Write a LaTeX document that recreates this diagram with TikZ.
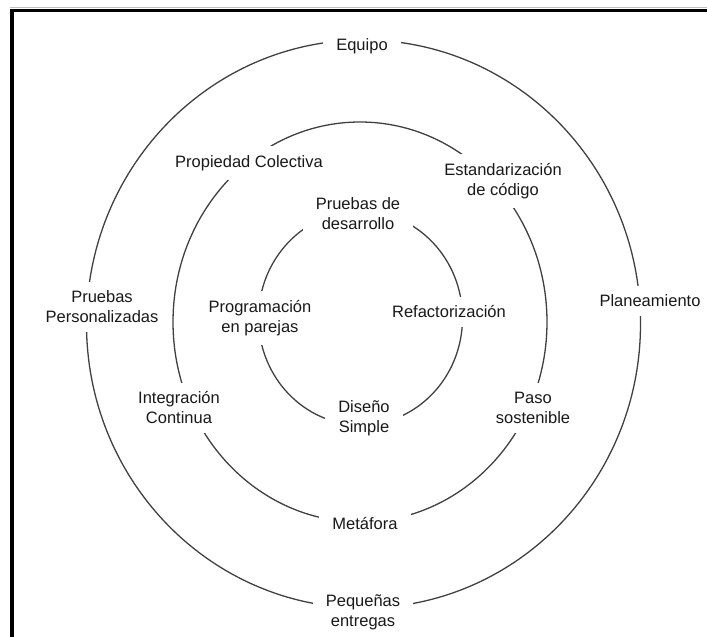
\documentclass[tikz,border=0pt]{standalone}
\usepackage{fontspec}
\setmainfont{Liberation Sans}
\begin{document}
\begin{tikzpicture}[x=1pt,y=-1pt,
  ring/.style={draw=black!75,line width=1.3pt},
  practice/.style={fill=white,align=center,inner xsep=13pt,inner ysep=9pt,
    font=\fontsize{16.5}{20}\selectfont,text=black!90}]
\useasboundingbox (0,0) rectangle (707,637);
% page frame
\draw[black!25,line width=0.8pt] (10,7) -- (707,7);
\draw[line width=3.5pt] (12,637) -- (12,10.5) -- (707,10.5);
% concentric rings
\draw[ring] (363.5,324) ellipse [x radius=277, y radius=284];
\draw[ring] (360,322) ellipse [x radius=187, y radius=200];
\draw[ring] (360.5,318) ellipse [x radius=102, y radius=107];
% outer ring
\node[practice] (equipo) at (362,46) {Equipo};
\node[practice] (plan) at (650,301) {Planeamiento};
\node[practice] (peq) at (363,612) {Pequeñas\\entregas};
\node[practice] (pers) at (102,307) {Pruebas\\Personalizadas};
% middle ring
\node[practice] (prop) at (249,163) {Propiedad Colectiva};
\node[practice] (estd) at (503,181) {Estandarización\\de código};
\node[practice] (paso) at (533,408) {Paso\\sostenible};
\node[practice] (meta) at (365,523) {Metáfora};
\node[practice] (integ) at (179,408) {Integración\\Continua};
% inner ring
\node[practice] (desa) at (358,214) {Pruebas de\\desarrollo};
\node[practice] (refa) at (449,312) {Refactorización};
\node[practice] (dise) at (364,418) {Diseño\\Simple};
\node[practice] (pareja) at (260,318) {Programación\\en parejas};
\end{tikzpicture}
\end{document}
